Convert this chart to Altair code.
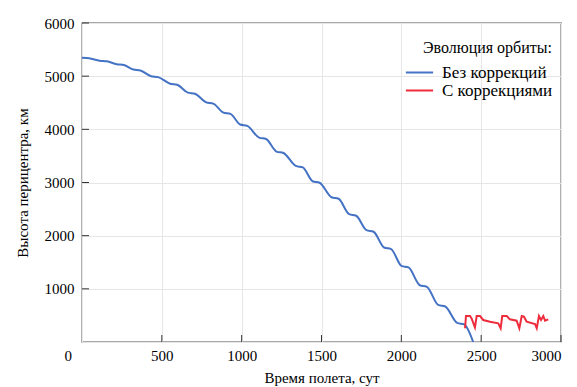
import altair as alt
import pandas as pd

# Without corrections (blue): day, pericentre altitude (km)
T_BLUE = [0, 45, 110, 155, 218, 262, 322, 366, 433, 477, 552, 596, 663, 707,
          778, 822, 886, 930, 991, 1035, 1109, 1153, 1218, 1262, 1339, 1383,
          1444, 1488, 1563, 1607, 1673, 1717, 1782, 1826, 1892, 1936, 2001,
          2045, 2116, 2160, 2231, 2275, 2350, 2394, 2450]
H_BLUE = [5348, 5335, 5292, 5280, 5224, 5210, 5125, 5108, 5000, 4982, 4858,
          4838, 4690, 4668, 4508, 4484, 4315, 4290, 4090, 4064, 3845, 3818,
          3582, 3555, 3312, 3284, 3024, 2995, 2723, 2694, 2404, 2375, 2103,
          2074, 1778, 1748, 1432, 1402, 1068, 1038, 698, 668, 360, 330, 0]

# With corrections (red)
T_RED = [2399, 2405, 2430, 2440, 2461, 2472, 2493, 2513, 2555, 2607, 2622,
         2632, 2660, 2680, 2722, 2739, 2754, 2768, 2785, 2837, 2848, 2862,
         2875, 2889, 2900, 2920]
H_RED = [258, 489, 489, 445, 276, 489, 489, 414, 382, 351, 258, 489, 489,
         426, 401, 258, 489, 476, 382, 339, 258, 489, 414, 489, 401, 426]

SERIES = ["Без коррекций", "С коррекциями"]
COLORS = ["#4472C4", "#EE2C3C"]
X_TICKS = [500, 1000, 1500, 2000, 2500, 3000]
Y_TICKS = [1000, 2000, 3000, 4000, 5000, 6000]

df = pd.concat([
    pd.DataFrame({"t": T_BLUE, "h": H_BLUE, "s": SERIES[0]}),
    pd.DataFrame({"t": T_RED, "h": H_RED, "s": SERIES[1]}),
])

FONT = "Liberation Serif"
xs = alt.Scale(domain=[0, 3000], nice=False)
ys = alt.Scale(domain=[0, 6000], nice=False)

xaxis = alt.Axis(
    title="Время полета, сут", values=[0] + X_TICKS, format="d",
    ticks=False, domain=False, labelPadding=6, titlePadding=7,
    labelFont=FONT, titleFont=FONT,
    labelOffset=alt.ExprRef("datum.value == 0 ? -18 : 0"),
)
yaxis = alt.Axis(
    title="Высота перицентра, км", values=[0] + Y_TICKS, format="d",
    ticks=False, domain=False, labelPadding=8, titlePadding=14,
    labelFont=FONT, titleFont=FONT,
    labelExpr="datum.value == 0 ? '' : datum.label",
)

base = alt.Chart(df).encode(
    x=alt.X("t:Q", scale=xs, axis=xaxis),
    y=alt.Y("h:Q", scale=ys, axis=yaxis),
    color=alt.Color("s:N", scale=alt.Scale(domain=SERIES, range=COLORS),
                    legend=alt.Legend(title="Эволюция орбиты:",
                                      labelFont=FONT, titleFont=FONT)),
    detail="s:N",
)
blue = base.transform_filter(alt.datum.s == SERIES[0]).mark_line(
    strokeWidth=2, clip=True, interpolate="monotone")
red = base.transform_filter(alt.datum.s == SERIES[1]).mark_line(
    strokeWidth=2, clip=True)

xt = alt.Chart(pd.DataFrame({"t": X_TICKS})).mark_rule(color="#333", strokeWidth=1).encode(
    x=alt.X("t:Q", scale=xs, axis=xaxis),
    y=alt.value(319), y2=alt.value(312),
)
yt = alt.Chart(pd.DataFrame({"h": Y_TICKS})).mark_rule(color="#333", strokeWidth=1).encode(
    y=alt.Y("h:Q", scale=ys, axis=yaxis),
    x=alt.value(0), x2=alt.value(7),
)

chart = alt.layer(blue, red, xt, yt).properties(
    width=479, height=319,
    autosize=alt.AutoSizeParams(type="none"),
    padding={"left": 74, "top": 15, "right": 8, "bottom": 45},
).configure(
    font=FONT,
).configure_view(
    stroke="#555", strokeWidth=1.3,
).configure_axis(
    labelFont=FONT, titleFont=FONT, labelFontSize=15, titleFontSize=15,
    labelColor="#000", titleColor="#000", titleFontWeight="normal",
    gridColor="#e6e6e6", gridWidth=1,
).configure_legend(
    orient="none", legendX=328, legendY=17,
    titleFont=FONT, labelFont=FONT, titleFontSize=16, labelFontSize=17,
    titleFontWeight="normal", titleColor="#000", labelColor="#000",
    titleAnchor="end", symbolType="M-1.6,0L1.6,0", symbolSize=289,
    symbolStrokeWidth=2, labelOffset=13, rowPadding=-1, titlePadding=7,
)

chart.save("out.html", embed_options={"renderer": "svg", "actions": False})
